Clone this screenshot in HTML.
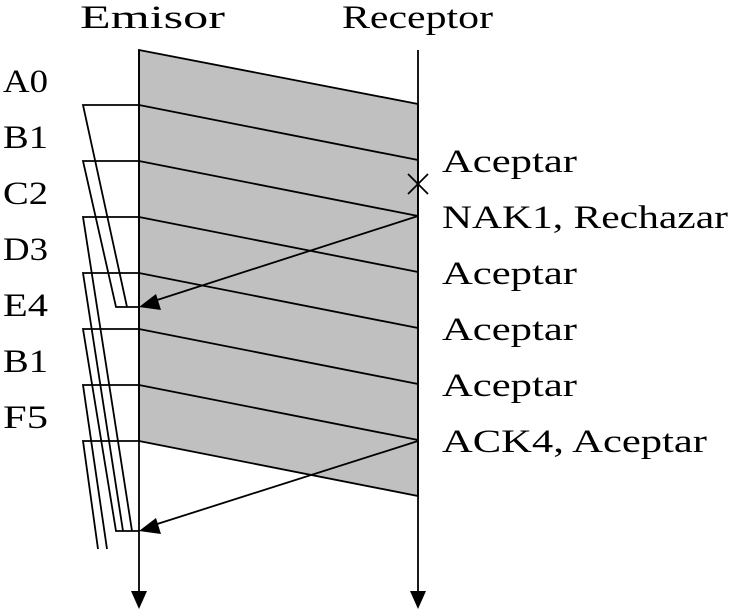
<!DOCTYPE html>
<html><head><style>body{margin:0;background:#fff}</style></head><body>
<svg width="730" height="609" viewBox="0 0 730 609" xmlns="http://www.w3.org/2000/svg" font-family="Liberation Serif, serif" font-size="33">
<polygon points="139,50 418,104 418,496 139,441" fill="#c0c0c0" stroke="#000" stroke-width="1.8"/>
<g stroke="#000" stroke-width="1.8" fill="none">
<line x1="139" y1="105" x2="418" y2="160"/>
<line x1="139" y1="161" x2="418" y2="216"/>
<line x1="139" y1="217" x2="418" y2="272"/>
<line x1="139" y1="273" x2="418" y2="328"/>
<line x1="139" y1="329" x2="418" y2="384"/>
<line x1="139" y1="385" x2="418" y2="440"/>
<line x1="139" y1="50" x2="139" y2="592"/>
<line x1="418" y1="50" x2="418" y2="592"/>
<line x1="418" y1="216" x2="154" y2="301"/>
<line x1="418" y1="441" x2="154" y2="525"/>
<line x1="408" y1="174" x2="428" y2="194"/>
<line x1="428" y1="174" x2="408" y2="194"/>
<polyline points="139,105 83,105 127,307"/>
<polyline points="139,161 83,161 116,307 139,307"/>
<polyline points="139,217 83,217 132,531"/>
<polyline points="139,273 83,273 123,531"/>
<polyline points="139,329 83,329 116,531 139,531"/>
<polyline points="139,385 83,385 107,549"/>
<polyline points="139,441 83,441 98,549"/>
</g>
<g fill="#000">
<polygon points="139,307 156,294 161,310"/>
<polygon points="139,531 156,518 161,534"/>
<polygon points="139,609 131,591 147,591"/>
<polygon points="418,609 410,591 426,591"/>
</g>
<text x="80" y="28" textLength="145" lengthAdjust="spacingAndGlyphs">Emisor</text>
<text x="342" y="28" textLength="151" lengthAdjust="spacingAndGlyphs">Receptor</text>
<g>
<text x="3" y="92" textLength="45" lengthAdjust="spacingAndGlyphs">A0</text>
<text x="3" y="148" textLength="45" lengthAdjust="spacingAndGlyphs">B1</text>
<text x="3" y="204" textLength="45" lengthAdjust="spacingAndGlyphs">C2</text>
<text x="3" y="260" textLength="45" lengthAdjust="spacingAndGlyphs">D3</text>
<text x="3" y="316" textLength="45" lengthAdjust="spacingAndGlyphs">E4</text>
<text x="3" y="372" textLength="45" lengthAdjust="spacingAndGlyphs">B1</text>
<text x="3" y="428" textLength="45" lengthAdjust="spacingAndGlyphs">F5</text>
<text x="442" y="172" textLength="135" lengthAdjust="spacingAndGlyphs">Aceptar</text>
<text x="442" y="228" textLength="286" lengthAdjust="spacingAndGlyphs">NAK1, Rechazar</text>
<text x="442" y="284" textLength="135" lengthAdjust="spacingAndGlyphs">Aceptar</text>
<text x="442" y="340" textLength="135" lengthAdjust="spacingAndGlyphs">Aceptar</text>
<text x="442" y="396" textLength="135" lengthAdjust="spacingAndGlyphs">Aceptar</text>
<text x="442" y="452" textLength="265" lengthAdjust="spacingAndGlyphs">ACK4, Aceptar</text>
</g>
</svg>
</body></html>
